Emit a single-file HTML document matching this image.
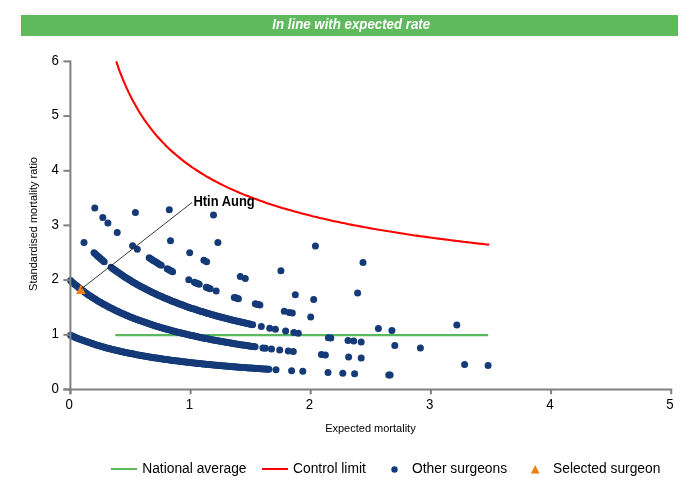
<!DOCTYPE html>
<html><head><meta charset="utf-8"><title>Funnel plot</title>
<style>
html,body{margin:0;padding:0;background:#fff;}
body{width:700px;height:500px;overflow:hidden;position:relative;font-family:"Liberation Sans",Arial,sans-serif;}
#banner{position:absolute;left:21px;top:15px;width:657px;height:21px;background:#5fba5d;color:#fff;font-weight:bold;font-style:italic;font-size:13.5px;line-height:19.4px;text-align:center;padding-left:3px;box-sizing:border-box;}
svg{position:absolute;left:0;top:0;}
svg text{font-family:"Liberation Sans",Arial,sans-serif;fill:#000;}
</style></head><body>
<div id="banner"></div>
<svg width="700" height="500" viewBox="0 0 700 500">
<text transform="translate(351.2,29) scale(0.963,1)" font-size="13.8" font-weight="bold" font-style="italic" text-anchor="middle" style="fill:#fff">In line with expected rate</text>
<g font-size="14.3"><text transform="translate(58.8,392.8) scale(0.93,1)" text-anchor="end">0</text><text transform="translate(58.8,338.1) scale(0.93,1)" text-anchor="end">1</text><text transform="translate(58.8,283.4) scale(0.93,1)" text-anchor="end">2</text><text transform="translate(58.8,228.7) scale(0.93,1)" text-anchor="end">3</text><text transform="translate(58.8,174.1) scale(0.93,1)" text-anchor="end">4</text><text transform="translate(58.8,119.4) scale(0.93,1)" text-anchor="end">5</text><text transform="translate(58.8,64.7) scale(0.93,1)" text-anchor="end">6</text><text transform="translate(69.2,409.2) scale(0.93,1)" text-anchor="middle">0</text><text transform="translate(189.4,409.2) scale(0.93,1)" text-anchor="middle">1</text><text transform="translate(309.5,409.2) scale(0.93,1)" text-anchor="middle">2</text><text transform="translate(429.7,409.2) scale(0.93,1)" text-anchor="middle">3</text><text transform="translate(549.9,409.2) scale(0.93,1)" text-anchor="middle">4</text><text transform="translate(670.0,409.2) scale(0.93,1)" text-anchor="middle">5</text></g>
<text x="370.4" y="432.4" font-size="11" text-anchor="middle">Expected mortality</text>
<text transform="translate(36.6,224) rotate(-90)" font-size="11" text-anchor="middle">Standardised mortality ratio</text>
<line x1="116.1" y1="335.1" x2="487.3" y2="335.1" stroke="#5cb85c" stroke-width="2.2" stroke-linecap="round"/>
<polyline points="116.5,62.2 119.6,71.1 122.8,79.1 125.9,86.4 129.0,93.1 132.1,99.3 135.3,105.1 138.4,110.5 141.5,115.5 144.6,120.1 147.8,124.5 150.9,128.7 154.0,132.6 157.1,136.2 160.3,139.7 163.4,143.1 166.5,146.2 169.6,149.2 172.8,152.1 175.9,154.8 179.0,157.4 182.1,159.9 185.3,162.3 188.4,164.6 191.5,166.9 194.6,169.0 197.8,171.0 200.9,173.0 204.0,174.9 207.1,176.8 210.3,178.5 213.4,180.3 216.5,181.9 219.6,183.5 222.8,185.1 225.9,186.6 229.0,188.1 232.1,189.5 235.3,190.9 238.4,192.3 241.5,193.6 244.6,194.9 247.8,196.1 250.9,197.3 254.0,198.5 257.1,199.6 260.2,200.8 263.4,201.8 266.5,202.9 269.6,204.0 272.7,205.0 275.9,206.0 279.0,206.9 282.1,207.9 285.2,208.8 288.4,209.7 291.5,210.6 294.6,211.5 297.7,212.3 300.9,213.2 304.0,214.0 307.1,214.8 310.2,215.6 313.4,216.4 316.5,217.1 319.6,217.9 322.7,218.6 325.9,219.3 329.0,220.0 332.1,220.7 335.2,221.4 338.4,222.0 341.5,222.7 344.6,223.3 347.7,224.0 350.9,224.6 354.0,225.2 357.1,225.8 360.2,226.4 363.4,227.0 366.5,227.5 369.6,228.1 372.7,228.7 375.9,229.2 379.0,229.8 382.1,230.3 385.2,230.8 388.3,231.3 391.5,231.8 394.6,232.3 397.7,232.8 400.8,233.3 404.0,233.8 407.1,234.3 410.2,234.7 413.3,235.2 416.5,235.6 419.6,236.1 422.7,236.5 425.8,236.9 429.0,237.4 432.1,237.8 435.2,238.2 438.3,238.6 441.5,239.0 444.6,239.4 447.7,239.8 450.8,240.2 454.0,240.6 457.1,241.0 460.2,241.4 463.3,241.8 466.5,242.1 469.6,242.5 472.7,242.9 475.8,243.2 479.0,243.6 482.1,243.9 485.2,244.3 488.3,244.6" fill="none" stroke="#ff0000" stroke-width="2.1" stroke-linejoin="round" stroke-linecap="round"/>
<g fill="#153a78">
<circle cx="70.6" cy="335.3" r="3.5"/><circle cx="72.0" cy="335.9" r="3.5"/><circle cx="73.5" cy="336.6" r="3.5"/><circle cx="74.9" cy="337.2" r="3.5"/><circle cx="76.3" cy="337.8" r="3.5"/><circle cx="77.8" cy="338.4" r="3.5"/><circle cx="79.2" cy="338.9" r="3.5"/><circle cx="80.7" cy="339.5" r="3.5"/><circle cx="82.1" cy="340.1" r="3.5"/><circle cx="83.5" cy="340.6" r="3.5"/><circle cx="85.0" cy="341.1" r="3.5"/><circle cx="86.4" cy="341.6" r="3.5"/><circle cx="87.8" cy="342.1" r="3.5"/><circle cx="89.3" cy="342.6" r="3.5"/><circle cx="90.7" cy="343.1" r="3.5"/><circle cx="92.2" cy="343.6" r="3.5"/><circle cx="93.6" cy="344.1" r="3.5"/><circle cx="95.0" cy="344.5" r="3.5"/><circle cx="96.5" cy="345.0" r="3.5"/><circle cx="97.9" cy="345.4" r="3.5"/><circle cx="99.3" cy="345.8" r="3.5"/><circle cx="100.8" cy="346.3" r="3.5"/><circle cx="102.2" cy="346.7" r="3.5"/><circle cx="103.6" cy="347.1" r="3.5"/><circle cx="105.1" cy="347.5" r="3.5"/><circle cx="106.5" cy="347.9" r="3.5"/><circle cx="108.0" cy="348.2" r="3.5"/><circle cx="109.4" cy="348.6" r="3.5"/><circle cx="110.8" cy="349.0" r="3.5"/><circle cx="112.3" cy="349.4" r="3.5"/><circle cx="113.7" cy="349.7" r="3.5"/><circle cx="115.1" cy="350.1" r="3.5"/><circle cx="116.6" cy="350.4" r="3.5"/><circle cx="118.0" cy="350.7" r="3.5"/><circle cx="119.5" cy="351.1" r="3.5"/><circle cx="120.9" cy="351.4" r="3.5"/><circle cx="122.3" cy="351.7" r="3.5"/><circle cx="123.8" cy="352.0" r="3.5"/><circle cx="125.2" cy="352.4" r="3.5"/><circle cx="126.6" cy="352.7" r="3.5"/><circle cx="128.1" cy="353.0" r="3.5"/><circle cx="129.5" cy="353.3" r="3.5"/><circle cx="130.9" cy="353.6" r="3.5"/><circle cx="132.4" cy="353.8" r="3.5"/><circle cx="133.8" cy="354.1" r="3.5"/><circle cx="135.3" cy="354.4" r="3.5"/><circle cx="136.7" cy="354.7" r="3.5"/><circle cx="138.1" cy="355.0" r="3.5"/><circle cx="139.6" cy="355.2" r="3.5"/><circle cx="141.0" cy="355.5" r="3.5"/><circle cx="142.4" cy="355.7" r="3.5"/><circle cx="143.9" cy="356.0" r="3.5"/><circle cx="145.3" cy="356.2" r="3.5"/><circle cx="146.8" cy="356.5" r="3.5"/><circle cx="148.2" cy="356.7" r="3.5"/><circle cx="149.6" cy="357.0" r="3.5"/><circle cx="151.1" cy="357.2" r="3.5"/><circle cx="152.5" cy="357.4" r="3.5"/><circle cx="153.9" cy="357.7" r="3.5"/><circle cx="155.4" cy="357.9" r="3.5"/><circle cx="156.8" cy="358.1" r="3.5"/><circle cx="158.2" cy="358.3" r="3.5"/><circle cx="159.7" cy="358.6" r="3.5"/><circle cx="161.1" cy="358.8" r="3.5"/><circle cx="162.6" cy="359.0" r="3.5"/><circle cx="164.0" cy="359.2" r="3.5"/><circle cx="165.4" cy="359.4" r="3.5"/><circle cx="166.9" cy="359.6" r="3.5"/><circle cx="168.3" cy="359.8" r="3.5"/><circle cx="169.7" cy="360.0" r="3.5"/><circle cx="171.2" cy="360.2" r="3.5"/><circle cx="172.6" cy="360.4" r="3.5"/><circle cx="174.1" cy="360.6" r="3.5"/><circle cx="175.5" cy="360.8" r="3.5"/><circle cx="176.9" cy="360.9" r="3.5"/><circle cx="178.4" cy="361.1" r="3.5"/><circle cx="179.8" cy="361.3" r="3.5"/><circle cx="181.2" cy="361.5" r="3.5"/><circle cx="182.7" cy="361.7" r="3.5"/><circle cx="184.1" cy="361.8" r="3.5"/><circle cx="185.5" cy="362.0" r="3.5"/><circle cx="187.0" cy="362.2" r="3.5"/><circle cx="188.4" cy="362.3" r="3.5"/><circle cx="189.9" cy="362.5" r="3.5"/><circle cx="191.3" cy="362.7" r="3.5"/><circle cx="192.7" cy="362.8" r="3.5"/><circle cx="194.2" cy="363.0" r="3.5"/><circle cx="195.6" cy="363.2" r="3.5"/><circle cx="197.0" cy="363.3" r="3.5"/><circle cx="198.5" cy="363.5" r="3.5"/><circle cx="199.9" cy="363.6" r="3.5"/><circle cx="201.4" cy="363.8" r="3.5"/><circle cx="202.8" cy="363.9" r="3.5"/><circle cx="204.2" cy="364.1" r="3.5"/><circle cx="205.7" cy="364.2" r="3.5"/><circle cx="207.1" cy="364.4" r="3.5"/><circle cx="208.5" cy="364.5" r="3.5"/><circle cx="210.0" cy="364.6" r="3.5"/><circle cx="211.4" cy="364.8" r="3.5"/><circle cx="212.8" cy="364.9" r="3.5"/><circle cx="214.3" cy="365.1" r="3.5"/><circle cx="215.7" cy="365.2" r="3.5"/><circle cx="217.2" cy="365.3" r="3.5"/><circle cx="218.6" cy="365.5" r="3.5"/><circle cx="220.0" cy="365.6" r="3.5"/><circle cx="221.5" cy="365.7" r="3.5"/><circle cx="222.9" cy="365.8" r="3.5"/><circle cx="224.3" cy="366.0" r="3.5"/><circle cx="225.8" cy="366.1" r="3.5"/><circle cx="227.2" cy="366.2" r="3.5"/><circle cx="228.6" cy="366.3" r="3.5"/><circle cx="230.1" cy="366.5" r="3.5"/><circle cx="231.5" cy="366.6" r="3.5"/><circle cx="233.0" cy="366.7" r="3.5"/><circle cx="234.4" cy="366.8" r="3.5"/><circle cx="235.8" cy="366.9" r="3.5"/><circle cx="237.3" cy="367.0" r="3.5"/><circle cx="238.7" cy="367.2" r="3.5"/><circle cx="240.1" cy="367.3" r="3.5"/><circle cx="241.6" cy="367.4" r="3.5"/><circle cx="243.0" cy="367.5" r="3.5"/><circle cx="244.5" cy="367.6" r="3.5"/><circle cx="245.9" cy="367.7" r="3.5"/><circle cx="247.3" cy="367.8" r="3.5"/><circle cx="248.8" cy="367.9" r="3.5"/><circle cx="250.2" cy="368.0" r="3.5"/><circle cx="251.6" cy="368.1" r="3.5"/><circle cx="253.1" cy="368.2" r="3.5"/><circle cx="254.5" cy="368.3" r="3.5"/><circle cx="255.9" cy="368.4" r="3.5"/><circle cx="257.4" cy="368.5" r="3.5"/><circle cx="258.8" cy="368.6" r="3.5"/><circle cx="260.3" cy="368.7" r="3.5"/><circle cx="261.7" cy="368.8" r="3.5"/><circle cx="263.1" cy="368.9" r="3.5"/><circle cx="264.6" cy="369.0" r="3.5"/><circle cx="266.0" cy="369.1" r="3.5"/><circle cx="267.4" cy="369.2" r="3.5"/><circle cx="268.9" cy="369.3" r="3.5"/><circle cx="276.0" cy="369.8" r="3.5"/><circle cx="291.6" cy="370.7" r="3.5"/><circle cx="302.8" cy="371.3" r="3.5"/><circle cx="328.0" cy="372.6" r="3.5"/><circle cx="342.8" cy="373.2" r="3.5"/><circle cx="354.6" cy="373.7" r="3.5"/><circle cx="388.8" cy="375.0" r="3.5"/><circle cx="390.1" cy="375.0" r="3.5"/><circle cx="70.6" cy="280.6" r="3.5"/><circle cx="72.0" cy="281.9" r="3.5"/><circle cx="73.5" cy="283.2" r="3.5"/><circle cx="74.9" cy="284.4" r="3.5"/><circle cx="76.4" cy="285.6" r="3.5"/><circle cx="77.8" cy="286.8" r="3.5"/><circle cx="79.2" cy="288.0" r="3.5"/><circle cx="80.7" cy="289.1" r="3.5"/><circle cx="82.1" cy="290.2" r="3.5"/><circle cx="83.6" cy="291.3" r="3.5"/><circle cx="85.0" cy="292.3" r="3.5"/><circle cx="86.5" cy="293.4" r="3.5"/><circle cx="87.9" cy="294.4" r="3.5"/><circle cx="89.3" cy="295.4" r="3.5"/><circle cx="90.8" cy="296.3" r="3.5"/><circle cx="92.2" cy="297.3" r="3.5"/><circle cx="93.7" cy="298.2" r="3.5"/><circle cx="95.1" cy="299.1" r="3.5"/><circle cx="96.5" cy="300.0" r="3.5"/><circle cx="98.0" cy="300.9" r="3.5"/><circle cx="99.4" cy="301.8" r="3.5"/><circle cx="100.9" cy="302.6" r="3.5"/><circle cx="102.3" cy="303.4" r="3.5"/><circle cx="103.7" cy="304.3" r="3.5"/><circle cx="105.2" cy="305.1" r="3.5"/><circle cx="106.6" cy="305.8" r="3.5"/><circle cx="108.1" cy="306.6" r="3.5"/><circle cx="109.5" cy="307.4" r="3.5"/><circle cx="111.0" cy="308.1" r="3.5"/><circle cx="112.4" cy="308.8" r="3.5"/><circle cx="113.8" cy="309.5" r="3.5"/><circle cx="115.3" cy="310.2" r="3.5"/><circle cx="116.7" cy="310.9" r="3.5"/><circle cx="118.2" cy="311.6" r="3.5"/><circle cx="119.6" cy="312.3" r="3.5"/><circle cx="121.0" cy="312.9" r="3.5"/><circle cx="122.5" cy="313.6" r="3.5"/><circle cx="123.9" cy="314.2" r="3.5"/><circle cx="125.4" cy="314.8" r="3.5"/><circle cx="126.8" cy="315.5" r="3.5"/><circle cx="128.2" cy="316.1" r="3.5"/><circle cx="129.7" cy="316.7" r="3.5"/><circle cx="131.1" cy="317.2" r="3.5"/><circle cx="132.6" cy="317.8" r="3.5"/><circle cx="134.0" cy="318.4" r="3.5"/><circle cx="135.4" cy="318.9" r="3.5"/><circle cx="136.9" cy="319.5" r="3.5"/><circle cx="138.3" cy="320.0" r="3.5"/><circle cx="139.8" cy="320.6" r="3.5"/><circle cx="141.2" cy="321.1" r="3.5"/><circle cx="142.7" cy="321.6" r="3.5"/><circle cx="144.1" cy="322.1" r="3.5"/><circle cx="145.5" cy="322.6" r="3.5"/><circle cx="147.0" cy="323.1" r="3.5"/><circle cx="148.4" cy="323.6" r="3.5"/><circle cx="149.9" cy="324.1" r="3.5"/><circle cx="151.3" cy="324.5" r="3.5"/><circle cx="152.7" cy="325.0" r="3.5"/><circle cx="154.2" cy="325.5" r="3.5"/><circle cx="155.6" cy="325.9" r="3.5"/><circle cx="157.1" cy="326.4" r="3.5"/><circle cx="158.5" cy="326.8" r="3.5"/><circle cx="159.9" cy="327.2" r="3.5"/><circle cx="161.4" cy="327.7" r="3.5"/><circle cx="162.8" cy="328.1" r="3.5"/><circle cx="164.3" cy="328.5" r="3.5"/><circle cx="165.7" cy="328.9" r="3.5"/><circle cx="167.2" cy="329.3" r="3.5"/><circle cx="168.6" cy="329.7" r="3.5"/><circle cx="170.0" cy="330.1" r="3.5"/><circle cx="171.5" cy="330.5" r="3.5"/><circle cx="172.9" cy="330.9" r="3.5"/><circle cx="174.4" cy="331.3" r="3.5"/><circle cx="175.8" cy="331.7" r="3.5"/><circle cx="177.2" cy="332.0" r="3.5"/><circle cx="178.7" cy="332.4" r="3.5"/><circle cx="180.1" cy="332.7" r="3.5"/><circle cx="181.6" cy="333.1" r="3.5"/><circle cx="183.0" cy="333.5" r="3.5"/><circle cx="184.4" cy="333.8" r="3.5"/><circle cx="185.9" cy="334.1" r="3.5"/><circle cx="187.3" cy="334.5" r="3.5"/><circle cx="188.8" cy="334.8" r="3.5"/><circle cx="190.2" cy="335.2" r="3.5"/><circle cx="191.7" cy="335.5" r="3.5"/><circle cx="193.1" cy="335.8" r="3.5"/><circle cx="194.5" cy="336.1" r="3.5"/><circle cx="196.0" cy="336.4" r="3.5"/><circle cx="197.4" cy="336.8" r="3.5"/><circle cx="198.9" cy="337.1" r="3.5"/><circle cx="200.3" cy="337.4" r="3.5"/><circle cx="201.7" cy="337.7" r="3.5"/><circle cx="203.2" cy="338.0" r="3.5"/><circle cx="204.6" cy="338.3" r="3.5"/><circle cx="206.1" cy="338.6" r="3.5"/><circle cx="207.5" cy="338.8" r="3.5"/><circle cx="208.9" cy="339.1" r="3.5"/><circle cx="210.4" cy="339.4" r="3.5"/><circle cx="211.8" cy="339.7" r="3.5"/><circle cx="213.3" cy="340.0" r="3.5"/><circle cx="214.7" cy="340.2" r="3.5"/><circle cx="216.2" cy="340.5" r="3.5"/><circle cx="217.6" cy="340.8" r="3.5"/><circle cx="219.0" cy="341.0" r="3.5"/><circle cx="220.5" cy="341.3" r="3.5"/><circle cx="221.9" cy="341.6" r="3.5"/><circle cx="223.4" cy="341.8" r="3.5"/><circle cx="224.8" cy="342.1" r="3.5"/><circle cx="226.2" cy="342.3" r="3.5"/><circle cx="227.7" cy="342.6" r="3.5"/><circle cx="229.1" cy="342.8" r="3.5"/><circle cx="230.6" cy="343.0" r="3.5"/><circle cx="232.0" cy="343.3" r="3.5"/><circle cx="233.4" cy="343.5" r="3.5"/><circle cx="234.9" cy="343.8" r="3.5"/><circle cx="236.3" cy="344.0" r="3.5"/><circle cx="237.8" cy="344.2" r="3.5"/><circle cx="239.2" cy="344.5" r="3.5"/><circle cx="240.6" cy="344.7" r="3.5"/><circle cx="242.1" cy="344.9" r="3.5"/><circle cx="243.5" cy="345.1" r="3.5"/><circle cx="245.0" cy="345.3" r="3.5"/><circle cx="246.4" cy="345.6" r="3.5"/><circle cx="247.9" cy="345.8" r="3.5"/><circle cx="249.3" cy="346.0" r="3.5"/><circle cx="250.7" cy="346.2" r="3.5"/><circle cx="252.2" cy="346.4" r="3.5"/><circle cx="253.6" cy="346.6" r="3.5"/><circle cx="255.1" cy="346.8" r="3.5"/><circle cx="262.9" cy="347.9" r="3.5"/><circle cx="265.3" cy="348.2" r="3.5"/><circle cx="271.5" cy="349.0" r="3.5"/><circle cx="279.7" cy="350.0" r="3.5"/><circle cx="288.3" cy="351.1" r="3.5"/><circle cx="293.3" cy="351.6" r="3.5"/><circle cx="321.4" cy="354.5" r="3.5"/><circle cx="325.4" cy="354.9" r="3.5"/><circle cx="348.6" cy="356.9" r="3.5"/><circle cx="361.2" cy="358.0" r="3.5"/><circle cx="464.6" cy="364.4" r="3.5"/><circle cx="488.1" cy="365.5" r="3.5"/><circle cx="84.0" cy="242.4" r="3.5"/><circle cx="94.0" cy="252.7" r="3.5"/><circle cx="95.5" cy="254.1" r="3.5"/><circle cx="97.0" cy="255.4" r="3.5"/><circle cx="98.4" cy="256.8" r="3.5"/><circle cx="99.9" cy="258.1" r="3.5"/><circle cx="101.3" cy="259.3" r="3.5"/><circle cx="102.8" cy="260.6" r="3.5"/><circle cx="104.2" cy="261.8" r="3.5"/><circle cx="111.1" cy="267.3" r="3.5"/><circle cx="112.5" cy="268.4" r="3.5"/><circle cx="114.0" cy="269.5" r="3.5"/><circle cx="115.4" cy="270.5" r="3.5"/><circle cx="116.9" cy="271.5" r="3.5"/><circle cx="118.3" cy="272.6" r="3.5"/><circle cx="119.8" cy="273.6" r="3.5"/><circle cx="121.2" cy="274.5" r="3.5"/><circle cx="122.7" cy="275.5" r="3.5"/><circle cx="124.1" cy="276.5" r="3.5"/><circle cx="125.5" cy="277.4" r="3.5"/><circle cx="127.0" cy="278.3" r="3.5"/><circle cx="128.4" cy="279.2" r="3.5"/><circle cx="129.9" cy="280.1" r="3.5"/><circle cx="131.3" cy="281.0" r="3.5"/><circle cx="132.8" cy="281.9" r="3.5"/><circle cx="134.2" cy="282.7" r="3.5"/><circle cx="135.7" cy="283.5" r="3.5"/><circle cx="137.1" cy="284.4" r="3.5"/><circle cx="138.5" cy="285.2" r="3.5"/><circle cx="140.0" cy="286.0" r="3.5"/><circle cx="141.4" cy="286.8" r="3.5"/><circle cx="142.9" cy="287.5" r="3.5"/><circle cx="144.3" cy="288.3" r="3.5"/><circle cx="145.8" cy="289.1" r="3.5"/><circle cx="147.2" cy="289.8" r="3.5"/><circle cx="148.7" cy="290.5" r="3.5"/><circle cx="150.1" cy="291.2" r="3.5"/><circle cx="151.5" cy="292.0" r="3.5"/><circle cx="153.0" cy="292.7" r="3.5"/><circle cx="154.4" cy="293.3" r="3.5"/><circle cx="155.9" cy="294.0" r="3.5"/><circle cx="157.3" cy="294.7" r="3.5"/><circle cx="158.8" cy="295.4" r="3.5"/><circle cx="160.2" cy="296.0" r="3.5"/><circle cx="161.7" cy="296.6" r="3.5"/><circle cx="163.1" cy="297.3" r="3.5"/><circle cx="164.5" cy="297.9" r="3.5"/><circle cx="166.0" cy="298.5" r="3.5"/><circle cx="167.4" cy="299.1" r="3.5"/><circle cx="168.9" cy="299.7" r="3.5"/><circle cx="170.3" cy="300.3" r="3.5"/><circle cx="171.8" cy="300.9" r="3.5"/><circle cx="173.2" cy="301.5" r="3.5"/><circle cx="174.7" cy="302.1" r="3.5"/><circle cx="176.1" cy="302.6" r="3.5"/><circle cx="177.5" cy="303.2" r="3.5"/><circle cx="179.0" cy="303.7" r="3.5"/><circle cx="180.4" cy="304.3" r="3.5"/><circle cx="181.9" cy="304.8" r="3.5"/><circle cx="183.3" cy="305.3" r="3.5"/><circle cx="184.8" cy="305.8" r="3.5"/><circle cx="186.2" cy="306.4" r="3.5"/><circle cx="187.7" cy="306.9" r="3.5"/><circle cx="189.1" cy="307.4" r="3.5"/><circle cx="190.5" cy="307.9" r="3.5"/><circle cx="192.0" cy="308.4" r="3.5"/><circle cx="193.4" cy="308.8" r="3.5"/><circle cx="194.9" cy="309.3" r="3.5"/><circle cx="196.3" cy="309.8" r="3.5"/><circle cx="197.8" cy="310.3" r="3.5"/><circle cx="199.2" cy="310.7" r="3.5"/><circle cx="200.7" cy="311.2" r="3.5"/><circle cx="202.1" cy="311.6" r="3.5"/><circle cx="203.5" cy="312.1" r="3.5"/><circle cx="205.0" cy="312.5" r="3.5"/><circle cx="206.4" cy="313.0" r="3.5"/><circle cx="207.9" cy="313.4" r="3.5"/><circle cx="209.3" cy="313.8" r="3.5"/><circle cx="210.8" cy="314.2" r="3.5"/><circle cx="212.2" cy="314.7" r="3.5"/><circle cx="213.7" cy="315.1" r="3.5"/><circle cx="215.1" cy="315.5" r="3.5"/><circle cx="216.5" cy="315.9" r="3.5"/><circle cx="218.0" cy="316.3" r="3.5"/><circle cx="219.4" cy="316.7" r="3.5"/><circle cx="220.9" cy="317.1" r="3.5"/><circle cx="222.3" cy="317.5" r="3.5"/><circle cx="223.8" cy="317.8" r="3.5"/><circle cx="225.2" cy="318.2" r="3.5"/><circle cx="226.7" cy="318.6" r="3.5"/><circle cx="228.1" cy="319.0" r="3.5"/><circle cx="229.5" cy="319.3" r="3.5"/><circle cx="231.0" cy="319.7" r="3.5"/><circle cx="232.4" cy="320.1" r="3.5"/><circle cx="233.9" cy="320.4" r="3.5"/><circle cx="235.3" cy="320.8" r="3.5"/><circle cx="236.8" cy="321.1" r="3.5"/><circle cx="238.2" cy="321.5" r="3.5"/><circle cx="239.7" cy="321.8" r="3.5"/><circle cx="241.1" cy="322.1" r="3.5"/><circle cx="242.5" cy="322.5" r="3.5"/><circle cx="244.0" cy="322.8" r="3.5"/><circle cx="245.4" cy="323.1" r="3.5"/><circle cx="246.9" cy="323.5" r="3.5"/><circle cx="248.3" cy="323.8" r="3.5"/><circle cx="249.8" cy="324.1" r="3.5"/><circle cx="251.2" cy="324.4" r="3.5"/><circle cx="252.7" cy="324.7" r="3.5"/><circle cx="261.3" cy="326.6" r="3.5"/><circle cx="269.7" cy="328.2" r="3.5"/><circle cx="275.4" cy="329.3" r="3.5"/><circle cx="285.6" cy="331.1" r="3.5"/><circle cx="293.8" cy="332.5" r="3.5"/><circle cx="298.3" cy="333.3" r="3.5"/><circle cx="328.4" cy="337.8" r="3.5"/><circle cx="330.8" cy="338.1" r="3.5"/><circle cx="348.0" cy="340.4" r="3.5"/><circle cx="353.7" cy="341.1" r="3.5"/><circle cx="361.2" cy="342.0" r="3.5"/><circle cx="394.8" cy="345.6" r="3.5"/><circle cx="420.4" cy="348.0" r="3.5"/><circle cx="94.8" cy="208.0" r="3.5"/><circle cx="102.8" cy="217.5" r="3.5"/><circle cx="107.9" cy="223.0" r="3.5"/><circle cx="117.2" cy="232.4" r="3.5"/><circle cx="132.6" cy="245.7" r="3.5"/><circle cx="137.3" cy="249.3" r="3.5"/><circle cx="149.2" cy="257.7" r="3.5"/><circle cx="150.7" cy="258.7" r="3.5"/><circle cx="152.2" cy="259.7" r="3.5"/><circle cx="153.7" cy="260.7" r="3.5"/><circle cx="155.2" cy="261.6" r="3.5"/><circle cx="156.7" cy="262.6" r="3.5"/><circle cx="158.2" cy="263.5" r="3.5"/><circle cx="159.7" cy="264.4" r="3.5"/><circle cx="161.2" cy="265.3" r="3.5"/><circle cx="167.2" cy="268.7" r="3.5"/><circle cx="168.6" cy="269.5" r="3.5"/><circle cx="169.9" cy="270.2" r="3.5"/><circle cx="171.3" cy="271.0" r="3.5"/><circle cx="172.6" cy="271.7" r="3.5"/><circle cx="188.8" cy="279.7" r="3.5"/><circle cx="194.4" cy="282.2" r="3.5"/><circle cx="196.0" cy="282.9" r="3.5"/><circle cx="197.6" cy="283.6" r="3.5"/><circle cx="199.2" cy="284.3" r="3.5"/><circle cx="206.3" cy="287.2" r="3.5"/><circle cx="207.6" cy="287.8" r="3.5"/><circle cx="208.9" cy="288.3" r="3.5"/><circle cx="210.2" cy="288.8" r="3.5"/><circle cx="216.2" cy="291.1" r="3.5"/><circle cx="234.3" cy="297.4" r="3.5"/><circle cx="235.6" cy="297.8" r="3.5"/><circle cx="237.0" cy="298.3" r="3.5"/><circle cx="238.4" cy="298.7" r="3.5"/><circle cx="255.3" cy="303.8" r="3.5"/><circle cx="256.8" cy="304.2" r="3.5"/><circle cx="258.3" cy="304.6" r="3.5"/><circle cx="259.9" cy="305.0" r="3.5"/><circle cx="284.3" cy="311.2" r="3.5"/><circle cx="289.3" cy="312.4" r="3.5"/><circle cx="292.3" cy="313.1" r="3.5"/><circle cx="310.7" cy="317.0" r="3.5"/><circle cx="378.4" cy="328.5" r="3.5"/><circle cx="391.9" cy="330.4" r="3.5"/><circle cx="135.4" cy="212.4" r="3.5"/><circle cx="170.5" cy="240.7" r="3.5"/><circle cx="189.7" cy="252.7" r="3.5"/><circle cx="203.9" cy="260.3" r="3.5"/><circle cx="206.6" cy="261.7" r="3.5"/><circle cx="240.3" cy="276.6" r="3.5"/><circle cx="245.3" cy="278.6" r="3.5"/><circle cx="295.3" cy="294.7" r="3.5"/><circle cx="313.7" cy="299.5" r="3.5"/><circle cx="456.8" cy="325.1" r="3.5"/><circle cx="169.3" cy="209.8" r="3.5"/><circle cx="217.9" cy="242.6" r="3.5"/><circle cx="280.9" cy="270.7" r="3.5"/><circle cx="357.6" cy="293.1" r="3.5"/><circle cx="213.5" cy="215.1" r="3.5"/><circle cx="315.4" cy="245.9" r="3.5"/><circle cx="363.0" cy="262.6" r="3.5"/>
</g>
<g stroke="#808080" stroke-width="2" fill="none">
<line x1="70.4" y1="60.45" x2="70.4" y2="394.3"/>
<line x1="63.4" y1="389.45" x2="672.2" y2="389.45"/>
<line x1="63.4" y1="389.4" x2="70.4" y2="389.4"/><line x1="63.4" y1="334.8" x2="70.4" y2="334.8"/><line x1="63.4" y1="280.1" x2="70.4" y2="280.1"/><line x1="63.4" y1="225.4" x2="70.4" y2="225.4"/><line x1="63.4" y1="170.8" x2="70.4" y2="170.8"/><line x1="63.4" y1="116.1" x2="70.4" y2="116.1"/><line x1="63.4" y1="61.4" x2="70.4" y2="61.4"/><line x1="70.4" y1="389.45" x2="70.4" y2="394.3"/><line x1="190.6" y1="389.45" x2="190.6" y2="394.3"/><line x1="310.7" y1="389.45" x2="310.7" y2="394.3"/><line x1="430.9" y1="389.45" x2="430.9" y2="394.3"/><line x1="551.1" y1="389.45" x2="551.1" y2="394.3"/><line x1="671.2" y1="389.45" x2="671.2" y2="394.3"/>
</g>
<polygon points="80.9,284.6 85.65,294 76.15,294" fill="#f4800f"/>
<line x1="81.2" y1="289" x2="192" y2="202.5" stroke="#222" stroke-width="0.9"/>
<text transform="translate(193.4,205.6) scale(0.925,1)" font-size="14" font-weight="bold">Htin Aung</text>
<!-- legend -->
<line x1="111" y1="469" x2="137" y2="469" stroke="#5cb85c" stroke-width="2"/>
<text x="142.2" y="473" font-size="13.8">National average</text>
<line x1="262" y1="469" x2="288" y2="469" stroke="#ff0000" stroke-width="2"/>
<text x="293" y="473" font-size="13.8">Control limit</text>
<circle cx="394.5" cy="469.5" r="3.2" fill="#153a78"/>
<text x="412" y="473" font-size="13.8">Other surgeons</text>
<polygon points="535.2,465 539.5,473.5 530.9,473.5" fill="#f07e0e"/>
<text x="553" y="473" font-size="13.8">Selected surgeon</text>
</svg>
</body></html>
